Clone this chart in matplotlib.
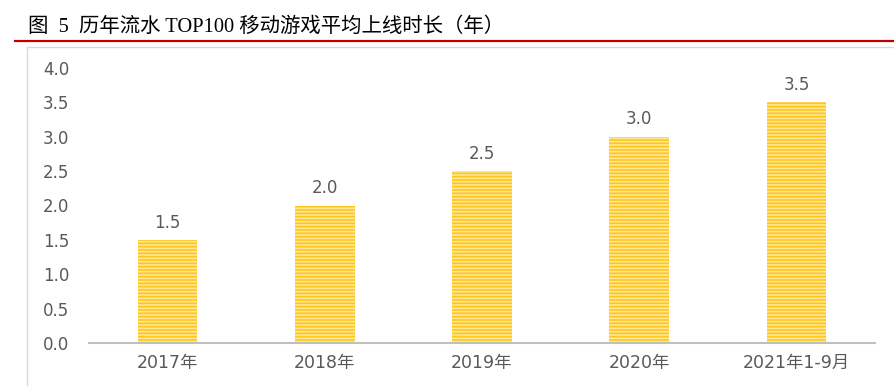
import matplotlib

matplotlib.use("Agg")
import matplotlib.pyplot as plt  # noqa: E402
from matplotlib.lines import Line2D  # noqa: E402

plt.rcParams["font.family"] = ["DejaVu Sans", "Noto Sans CJK SC"]
plt.rcParams["hatch.linewidth"] = 1.2

years = ["2017年", "2018年", "2019年", "2020年", "2021年1-9月"]
avg_years = [1.5, 2.0, 2.5, 3.0, 3.5]

GRAY_TXT = "#595959"
GOLD, PALE = "#FFC61A", "#FFE79A"

fig = plt.figure(figsize=(8.95, 3.86), dpi=100)
ax = fig.add_axes([89 / 895, 43 / 386, 786 / 895, 275 / 386])

x = range(len(years))
ax.bar(x, avg_years, width=0.38, color=GOLD, edgecolor=PALE, hatch="-----",
       linewidth=0, zorder=2)
for xi, v in zip(x, avg_years):
    ax.annotate(f"{v:.1f}", (xi, v), xytext=(0, 6), textcoords="offset points",
                ha="center", va="bottom", fontsize=12, color=GRAY_TXT)

ax.set_xlim(-0.5, len(years) - 0.5)
ax.set_ylim(0, 4.0)
ax.set_yticks([i * 0.5 for i in range(9)])
ax.yaxis.set_major_formatter(lambda v, _: f"{v:.1f}")
ax.set_xticks(list(x))
ax.set_xticklabels(years)
ax.tick_params(axis="y", length=0, pad=14, labelsize=12, labelcolor=GRAY_TXT)
ax.tick_params(axis="x", length=0, pad=8, labelsize=12.5, labelcolor=GRAY_TXT)
for s in ("top", "right", "left"):
    ax.spines[s].set_visible(False)
ax.spines["bottom"].set_color("#BFBFBF")
ax.spines["bottom"].set_linewidth(1.5)

# outer chart frame (left and top edges visible)
fig.add_artist(Line2D([27 / 895, 27 / 895], [0, 1 - 47 / 386], color="#D9D9D9", lw=1))
fig.add_artist(Line2D([27 / 895, 1], [1 - 47 / 386, 1 - 47 / 386], color="#D9D9D9", lw=1))

# caption and red rule
fig.text(28 / 895, 1 - 27 / 386, "图  5  历年流水 TOP100 移动游戏平均上线时长（年）",
         fontsize=14.7, va="center", ha="left", color="black",
         family=["Liberation Serif", "Noto Sans CJK SC"])
fig.add_artist(Line2D([15 / 895, 1], [1 - 41 / 386, 1 - 41 / 386], color="#C00000", lw=1.6))

fig.savefig("out.png", dpi=100, facecolor="white")
